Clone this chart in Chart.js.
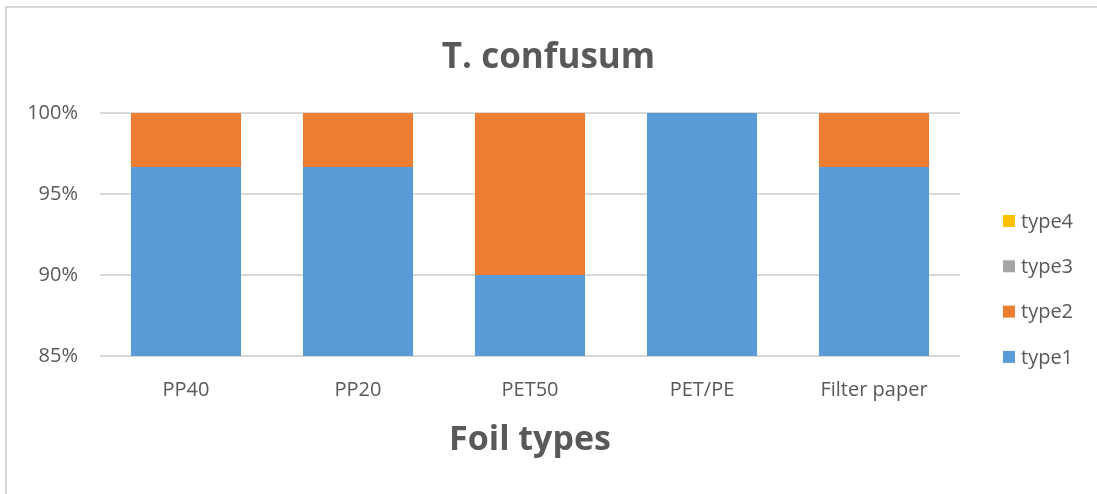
<!DOCTYPE html>
<html>
<head>
<meta charset="utf-8">
<script src="https://cdn.jsdelivr.net/npm/chart.js@4/dist/chart.umd.min.js"></script>
<style>
  body { margin: 0; background: #fff; }
  #wrap { position: relative; width: 1097px; height: 494px; overflow: hidden; }
  #frame { position: absolute; left: 5px; top: 6px; width: 1200px; height: 600px;
           border-top: 2px solid #d9d9d9; border-left: 2px solid #d9d9d9; }
  canvas { position: absolute; left: 0; top: 0; }
</style>
</head>
<body>
<div id="wrap">
  <div id="frame"></div>
  <canvas id="myChart" width="1097" height="494"></canvas>
</div>
<script>
var categories = ['PP40', 'PP20', 'PET50', 'PET/PE', 'Filter paper'];
var type1 = [96.67, 96.67, 90, 100, 96.67];
var type2 = [3.33, 3.33, 10, 0, 3.33];
var type3 = [0, 0, 0, 0, 0];
var type4 = [0, 0, 0, 0, 0];
var yTicks = [85, 90, 95, 100];

var textGray = '#595959';
var fontFamily = '"Open Sans", sans-serif';

// legend on the right, drawn top-down as type4 .. type1
var sideLegend = {
    id: 'sideLegend',
    afterDraw: function (chart) {
        var ctx = chart.ctx;
        var sets = chart.data.datasets.slice().reverse();
        ctx.save();
        ctx.font = '20px ' + fontFamily;
        ctx.textBaseline = 'middle';
        ctx.textAlign = 'left';
        sets.forEach(function (ds, i) {
            var y = 221 + i * 45.3;
            ctx.fillStyle = ds.backgroundColor;
            ctx.fillRect(1003, y - 6, 12, 12);
            ctx.fillStyle = textGray;
            ctx.fillText(ds.label, 1021, y + 1);
        });
        ctx.restore();
    }
};

function createChart() {
    var ctx = document.getElementById('myChart').getContext('2d');
    var myChart = new Chart(ctx, {
        type: 'bar',
        data: {
            labels: categories,
            datasets: [
                { label: 'type1', data: type1, backgroundColor: '#5B9BD5' },
                { label: 'type2', data: type2, backgroundColor: '#ED7D31' },
                { label: 'type3', data: type3, backgroundColor: '#A5A5A5' },
                { label: 'type4', data: type4, backgroundColor: '#FFC000' }
            ]
        },
        options: {
            responsive: false,
            animation: false,
            borderWidth: 0,
            datasets: { bar: { barPercentage: 0.64, categoryPercentage: 1 } },
            layout: { padding: { left: 0, right: 0, top: 0, bottom: 33 } },
            plugins: {
                legend: { display: false },
                tooltip: { enabled: false },
                title: {
                    display: true,
                    text: 'T. confusum',
                    color: textGray,
                    font: { family: fontFamily, size: 35, weight: 'bold' },
                    padding: { top: 37, bottom: 34 }
                }
            },
            scales: {
                x: {
                    stacked: true,
                    afterFit: function (scale) { scale.height = 105; },
                    grid: { display: false },
                    border: { display: false },
                    ticks: { color: textGray, font: { family: fontFamily, size: 20 }, padding: 14 },
                    title: {
                        display: true,
                        text: 'Foil types',
                        color: textGray,
                        font: { family: fontFamily, size: 34, weight: 'bold' },
                        padding: { top: 19, bottom: 0 }
                    }
                },
                y: {
                    stacked: true,
                    min: yTicks[0],
                    max: yTicks[yTicks.length - 1],
                    afterFit: function (scale) { scale.width = 100; },
                    afterBuildTicks: function (scale) {
                        scale.ticks = yTicks.map(function (v) { return { value: v }; });
                    },
                    grid: { color: '#d9d9d9', lineWidth: 2, drawTicks: false },
                    border: { display: false },
                    ticks: {
                        color: textGray,
                        font: { family: fontFamily, size: 20 },
                        padding: 22,
                        callback: function (v) { return v + '%'; }
                    }
                },
                // blank right-hand axis that keeps room for the legend
                side: {
                    position: 'right',
                    min: yTicks[0],
                    max: yTicks[yTicks.length - 1],
                    afterFit: function (scale) { scale.width = 137; },
                    grid: { display: false },
                    border: { display: false },
                    ticks: { display: false }
                }
            }
        },
        plugins: [sideLegend]
    });
    return myChart;
}

createChart();
</script>
</body>
</html>
